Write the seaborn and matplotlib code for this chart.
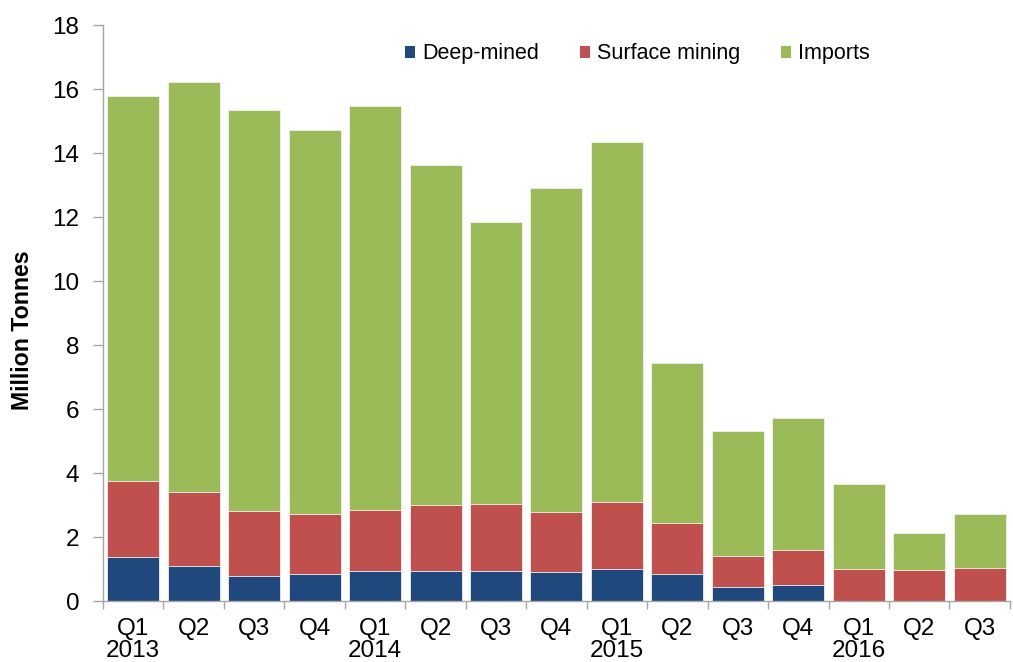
import numpy as np
import pandas as pd
import matplotlib
matplotlib.use("Agg")
import matplotlib.pyplot as plt
import seaborn as sns
from matplotlib.patches import Patch

# Quarterly coal supply, million tonnes
quarters = ["Q1", "Q2", "Q3", "Q4", "Q1", "Q2", "Q3", "Q4",
            "Q1", "Q2", "Q3", "Q4", "Q1", "Q2", "Q3"]
years = ["2013", "", "", "", "2014", "", "", "",
         "2015", "", "", "", "2016", "", ""]
deep_mined = [1.37, 1.11, 0.77, 0.83, 0.93, 0.93, 0.93, 0.91,
              0.99, 0.86, 0.44, 0.50, 0.0, 0.0, 0.0]
surface_mining = [2.39, 2.29, 2.03, 1.89, 1.91, 2.07, 2.10, 1.87,
                  2.12, 1.58, 0.98, 1.11, 0.99, 0.96, 1.02]
imports = [12.03, 12.83, 12.53, 11.99, 12.64, 10.63, 8.81, 10.12,
           11.23, 4.99, 3.89, 4.10, 2.68, 1.17, 1.70]

series_names = ["Deep-mined", "Surface mining", "Imports"]
series_colors = ["#1F497D", "#C0504D", "#9BBB59"]

keys = [f"{i:02d}" for i in range(len(quarters))]
df = pd.DataFrame({"key": keys, "deep": deep_mined,
                   "surface": surface_mining, "imports": imports})
df["lvl1"] = df["deep"]
df["lvl2"] = df["deep"] + df["surface"]
df["lvl3"] = df["lvl2"] + df["imports"]

sns.set_style("white")
plt.rcParams["font.family"] = ["Liberation Sans", "DejaVu Sans"]
plt.rcParams["text.color"] = "black"
plt.rcParams["axes.labelcolor"] = "black"
plt.rcParams["xtick.labelcolor"] = "black"
plt.rcParams["ytick.labelcolor"] = "black"

fig = plt.figure(figsize=(10.13, 6.62), dpi=100)
ax = fig.add_axes([0.1017, 0.0921, 0.8953, 0.8701])

# Stack by overlaying cumulative totals, tallest first
for col, color in zip(["lvl3", "lvl2", "lvl1"], series_colors[::-1]):
    sns.barplot(data=df, x="key", y=col, color=color, width=0.86,
                edgecolor="#F2F2F2", linewidth=0.6, saturation=1,
                order=keys, ax=ax)

ax.set_ylim(0, 18)
ax.set_xlim(-0.5, len(keys) - 0.5)
ax.set_yticks(np.arange(0, 19, 2))
ax.set_yticklabels([str(v) for v in range(0, 19, 2)], fontsize=17.5)

ax.set_xticks(np.arange(len(keys)))
ax.set_xticklabels([q + ("\n" + y if y else "") for q, y in zip(quarters, years)],
                   fontsize=17.5, va="top", linespacing=1.02)
ax.tick_params(axis="x", which="major", length=0, pad=12, labelcolor="black")
ax.set_xticks(np.arange(-0.5, len(keys), 1.0), minor=True)
ax.tick_params(axis="x", which="minor", length=6, width=1, color="#A6A6A6",
               direction="out", bottom=True)
ax.tick_params(axis="y", length=7, width=1, color="#A6A6A6",
               direction="out", left=True, pad=10, labelcolor="black")

ax.set_xlabel("")
ax.set_ylabel("Million Tonnes", fontsize=16.7, fontweight="bold", color="black")
ax.yaxis.set_label_coords(-0.076, 0.47)

for side in ["top", "right"]:
    ax.spines[side].set_visible(False)
for side in ["left", "bottom"]:
    ax.spines[side].set_color("#A6A6A6")
    ax.spines[side].set_linewidth(1)

handles = [Patch(facecolor=c, edgecolor="none") for c in series_colors]
ax.legend(handles, series_names, loc="center", bbox_to_anchor=(0.589, 0.950),
          ncol=3, frameon=False, fontsize=15.5, handlelength=0.47,
          handleheight=0.47, handletextpad=0.33, columnspacing=1.9,
          labelcolor="black")

fig.savefig("out.png", dpi=100)
